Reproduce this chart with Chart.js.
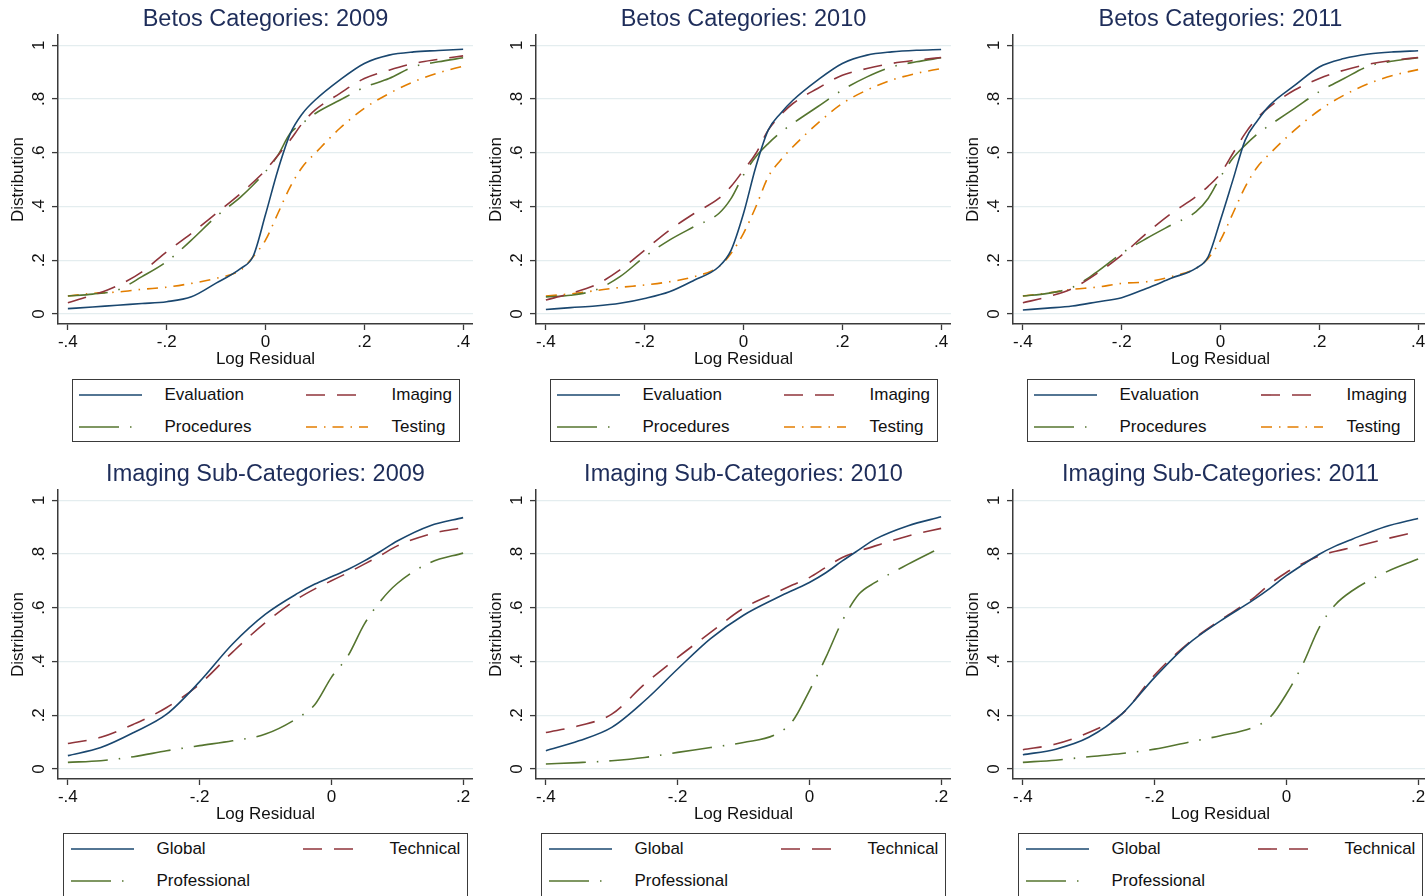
<!DOCTYPE html>
<html>
<head>
<meta charset="utf-8">
<title>Log Residual Distributions</title>
<script src="https://cdn.jsdelivr.net/npm/chart.js@4.4.1/dist/chart.umd.min.js"></script>
<style>
  body { margin: 0; background: #fff; width: 1425px; height: 896px; overflow: hidden; position: relative;
         font-family: "Liberation Sans", Arial, sans-serif; }
  .panel { position: absolute; width: 473px; height: 450px; }
  .panel canvas { position: absolute; left: 0; top: 0; }
  .legend { position: absolute; box-sizing: border-box; border: 1.5px solid #3a3a3a; background: #fff; }
  .legend svg { position: absolute; overflow: visible; }
  .legend .lab { position: absolute; font-size: 17px; line-height: 20px; color: #111; white-space: nowrap; }
</style>
</head>
<body>
<script>
// ---- data ----
const years = ['2009', '2010', '2011'];

// x positions (Log Residual) at which the curves were read
const xTop = [-0.4, -0.35, -0.3, -0.25, -0.2, -0.15, -0.1, -0.05, -0.025, 0, 0.025, 0.05, 0.075, 0.1, 0.15, 0.2, 0.25, 0.3, 0.35, 0.4];
const xBottom = [-0.4, -0.35, -0.3, -0.25, -0.2, -0.15, -0.1, -0.05, -0.025, 0, 0.025, 0.05, 0.075, 0.1, 0.15, 0.2];

const betosLabels = ['Evaluation', 'Imaging', 'Procedures', 'Testing'];
const imagingLabels = ['Global', 'Technical', 'Professional'];

// Betos categories
const evaluation2009 = [.020, .026, .033, .039, .046, .064, .115, .170, .215, .370, .535, .670, .746, .795, .870, .932, .963, .975, .980, .985];
const imaging2009    = [.042, .070, .105, .157, .232, .300, .374, .449, .490, .535, .590, .647, .710, .758, .820, .876, .907, .932, .947, .960];
const procedures2009 = [.067, .074, .089, .139, .195, .275, .362, .436, .480, .530, .590, .672, .710, .745, .795, .843, .876, .920, .938, .953];
const testing2009    = [.067, .077, .082, .092, .100, .114, .133, .164, .213, .275, .374, .473, .548, .597, .690, .765, .820, .864, .897, .922];

const evaluation2010 = [.017, .024, .030, .040, .058, .083, .126, .176, .238, .374, .548, .684, .746, .795, .870, .932, .963, .975, .981, .984];
const imaging2010    = [.052, .077, .108, .164, .238, .312, .374, .430, .475, .535, .597, .684, .740, .783, .839, .888, .913, .932, .944, .954];
const procedures2010 = [.064, .070, .089, .139, .213, .275, .325, .374, .430, .517, .585, .634, .675, .709, .771, .833, .882, .919, .938, .953];
const testing2010    = [.067, .075, .087, .099, .108, .120, .139, .176, .226, .300, .399, .510, .572, .622, .709, .783, .833, .870, .895, .913];

const evaluation2011 = [.015, .022, .030, .045, .061, .095, .133, .170, .213, .350, .498, .647, .720, .777, .850, .919, .950, .967, .975, .979];
const imaging2011    = [.042, .064, .095, .151, .219, .300, .374, .436, .475, .523, .597, .672, .730, .771, .833, .876, .907, .929, .944, .954];
const procedures2011 = [.067, .077, .099, .157, .226, .281, .331, .380, .430, .510, .579, .628, .670, .703, .765, .827, .876, .922, .941, .953];
const testing2011    = [.067, .078, .092, .100, .114, .120, .139, .170, .207, .275, .374, .473, .548, .597, .684, .758, .814, .857, .888, .909];

// Imaging sub-categories
const global2009       = [.050, .080, .136, .204, .325, .465, .576, .655, .688, .715, .742, .774, .810, .848, .905, .935];
const technical2009    = [.095, .118, .167, .229, .316, .435, .545, .635, .670, .700, .730, .762, .795, .830, .874, .898];
const professional2009 = [.025, .031, .046, .068, .087, .105, .130, .192, .240, .341, .420, .539, .626, .690, .768, .803];

const global2010       = [.068, .105, .155, .254, .372, .485, .572, .636, .665, .694, .730, .774, .815, .855, .905, .938];
const technical2010    = [.136, .161, .204, .316, .415, .508, .598, .657, .685, .712, .750, .787, .810, .830, .867, .895];
const professional2010 = [.019, .024, .031, .043, .062, .080, .099, .130, .180, .291, .415, .551, .650, .694, .762, .824];

const global2011       = [.053, .074, .118, .204, .341, .463, .551, .629, .672, .719, .760, .799, .830, .855, .901, .932];
const technical2011    = [.072, .093, .136, .204, .350, .466, .554, .636, .688, .731, .765, .793, .810, .824, .855, .884];
const professional2011 = [.025, .033, .046, .058, .074, .099, .124, .155, .192, .279, .390, .527, .613, .663, .731, .781];

// axis ticks
const yTicks = [0, 0.2, 0.4, 0.6, 0.8, 1];
const yTickLabels = ['0', '.2', '.4', '.6', '.8', '1'];
const xTicksTop = [-0.4, -0.2, 0, 0.2, 0.4];
const xTickLabelsTop = ['-.4', '-.2', '0', '.2', '.4'];
const xTicksBottom = [-0.4, -0.2, 0, 0.2];
const xTickLabelsBottom = ['-.4', '-.2', '0', '.2'];

// ---- styles (Stata s2color look) ----
const lineStyles = [
  { color: '#1a476f', dash: [] },                 // navy solid
  { color: '#90353b', dash: [19, 12] },           // maroon dash
  { color: '#55752f', dash: [40, 11, 1.5, 11] },  // green longdash-dot
  { color: '#e37e00', dash: [11, 7, 1.5, 7] }     // orange dash-dot
];
const FONT = '"Liberation Sans", Arial, sans-serif';
const AXIS = '#3a3a3a';
const GRID = '#e4edef';

function labelFor(vals, labels) {
  return v => {
    const i = vals.findIndex(t => Math.abs(t - v) < 1e-9);
    return i >= 0 ? labels[i] : '';
  };
}

function makePanel(left, top, title, xs, seriesList, names, xTicks, xLabels, xMin, xMax, legendBox) {
  const panel = document.createElement('div');
  panel.className = 'panel';
  panel.style.left = left + 'px';
  panel.style.top = top + 'px';
  document.body.appendChild(panel);

  const canvas = document.createElement('canvas');
  canvas.width = 473;
  canvas.height = 372;
  panel.appendChild(canvas);

  const datasets = seriesList.map((vals, i) => ({
    label: names[i],
    data: xs.map((x, j) => ({ x: x, y: vals[j] })),
    borderColor: lineStyles[i].color,
    borderDash: lineStyles[i].dash,
    borderWidth: 1.6,
    pointRadius: 0,
    fill: false,
    cubicInterpolationMode: 'monotone'
  }));

  new Chart(canvas.getContext('2d'), {
    type: 'line',
    data: { datasets: datasets },
    options: {
      responsive: false,
      animation: false,
      layout: { padding: 0 },
      plugins: {
        legend: { display: false },
        tooltip: { enabled: false },
        title: {
          display: true,
          fullSize: false,   // center the title over the plot region
          text: title,
          color: '#1e2d5a',
          font: { family: FONT, size: 23.5, weight: 'normal' },
          padding: { top: 5, bottom: 2 }
        }
      },
      scales: {
        x: {
          type: 'linear',
          min: xMin,
          max: xMax,
          afterBuildTicks: s => { s.ticks = xTicks.map(v => ({ value: v })); },
          afterFit: s => { s.height = 48; },
          ticks: {
            callback: labelFor(xTicks, xLabels),
            color: '#111',
            font: { family: FONT, size: 17 },
            padding: 2,
            maxRotation: 0,
            autoSkip: false
          },
          grid: { drawOnChartArea: false, drawTicks: true, tickLength: 6, tickColor: AXIS, tickWidth: 1.3 },
          border: { display: true, color: AXIS, width: 1.5 },
          title: {
            display: true,
            text: 'Log Residual',
            color: '#111',
            font: { family: FONT, size: 17 },
            padding: { top: 0, bottom: 2 }
          }
        },
        y: {
          type: 'linear',
          min: -0.037,
          max: 1.037,
          afterBuildTicks: s => { s.ticks = yTicks.map(v => ({ value: v })); },
          afterFit: s => { s.width = 58; },
          ticks: {
            callback: labelFor(yTicks, yTickLabels),
            color: '#111',
            font: { family: FONT, size: 17 },
            minRotation: 90,
            maxRotation: 90,
            crossAlign: 'center',
            padding: 6
          },
          grid: { color: GRID, lineWidth: 1.2, drawTicks: true, tickLength: 6, tickColor: AXIS, tickWidth: 1.3 },
          border: { display: true, color: AXIS, width: 1.5 },
          title: {
            display: true,
            text: 'Distribution',
            color: '#111',
            font: { family: FONT, size: 17 },
            padding: { top: 8, bottom: 0 }
          }
        }
      }
    }
  });

  // Stata style legend box below the plot
  const box = document.createElement('div');
  box.className = 'legend';
  box.style.left = legendBox.left + 'px';
  box.style.top = legendBox.top + 'px';
  box.style.width = legendBox.width + 'px';
  box.style.height = legendBox.height + 'px';
  panel.appendChild(box);

  names.forEach((name, i) => {
    const col = i % 2, row = Math.floor(i / 2);
    const cy = (row === 0 ? 16 : 48) - 1.5;
    const st = lineStyles[i];
    const len = legendBox.keyLen[i];
    const svg = document.createElementNS('http://www.w3.org/2000/svg', 'svg');
    svg.setAttribute('width', len);
    svg.setAttribute('height', 4);
    svg.style.left = (legendBox.keyX[col] - 1.5) + 'px';
    svg.style.top = (cy - 2) + 'px';
    const ln = document.createElementNS('http://www.w3.org/2000/svg', 'line');
    ln.setAttribute('x1', 0); ln.setAttribute('y1', 2);
    ln.setAttribute('x2', len); ln.setAttribute('y2', 2);
    ln.setAttribute('stroke', st.color);
    ln.setAttribute('stroke-width', 1.6);
    if (st.dash.length) ln.setAttribute('stroke-dasharray', st.dash.join(' '));
    svg.appendChild(ln);
    box.appendChild(svg);

    const lab = document.createElement('div');
    lab.className = 'lab';
    lab.textContent = name;
    lab.style.left = (legendBox.textX[col] - 1.5) + 'px';
    lab.style.top = (cy - 10) + 'px';
    box.appendChild(lab);
  });
}

const panelLefts = [0, 478, 955];
const topLegend = { left: 72, top: 379, width: 388, height: 63, keyX: [7, 234], textX: [93, 320], keyLen: [63, 50, 54, 62] };
const bottomLegend = { left: 63, top: 378, width: 405, height: 80, keyX: [8, 240], textX: [94, 327], keyLen: [63, 53, 55] };

const betosSeries = [
  [evaluation2009, imaging2009, procedures2009, testing2009],
  [evaluation2010, imaging2010, procedures2010, testing2010],
  [evaluation2011, imaging2011, procedures2011, testing2011]
];
const imagingSeries = [
  [global2009, technical2009, professional2009],
  [global2010, technical2010, professional2010],
  [global2011, technical2011, professional2011]
];

years.forEach((yr, k) => {
  makePanel(panelLefts[k], 0, 'Betos Categories: ' + yr, xTop, betosSeries[k], betosLabels,
            xTicksTop, xTickLabelsTop, -0.42, 0.42, topLegend);
  makePanel(panelLefts[k], 455, 'Imaging Sub-Categories: ' + yr, xBottom, imagingSeries[k], imagingLabels,
            xTicksBottom, xTickLabelsBottom, -0.415, 0.215, bottomLegend);
});
</script>
</body>
</html>
